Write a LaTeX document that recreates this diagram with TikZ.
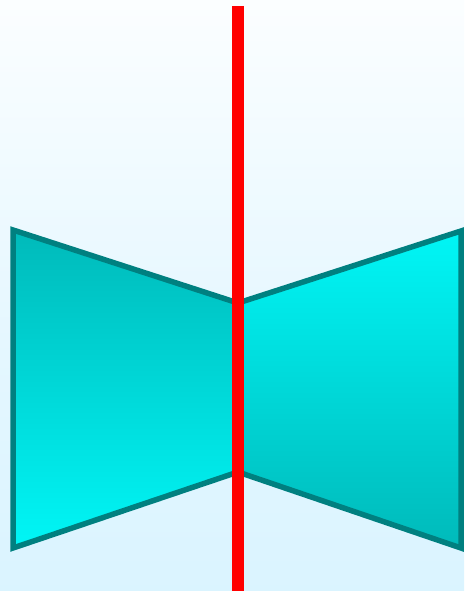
\documentclass[tikz,border=0pt]{standalone}
\usepackage{tikz}
\definecolor{bgtop}{RGB}{240,240,252}
\definecolor{bgbot}{RGB}{206,240,255}
\definecolor{cyandark}{RGB}{0,186,186}
\definecolor{cyanlight}{RGB}{0,246,246}
\definecolor{tealline}{RGB}{0,128,128}
\pgfdeclareverticalshading{backshade}{100bp}{
  color(0bp)=(bgbot); color(45bp)=(bgbot!55!white); color(80bp)=(white);
  color(92bp)=(bgtop!60!white); color(100bp)=(bgtop)}

\begin{document}
\begin{tikzpicture}[x=1pt, y=-1pt,
  wing/.style={draw=tealline, line width=5.5pt, line join=miter},
  axis/.style={draw=red, line width=12pt}]
  % canvas 464 x 591, origin top-left
  \useasboundingbox (0,0) rectangle (464,591);
  \shade[shading=backshade] (0,0) rectangle (464,591);

  % ============ WINGS ============
  % outer corners
  \coordinate (lt) at (13,230);
  \coordinate (lb) at (13,548);
  \coordinate (rt) at (461,231);
  \coordinate (rb) at (461,548);
  % waist on the axis
  \coordinate (mt) at (238,303);
  \coordinate (mb) at (238,472);

  \shade[top color=cyandark, bottom color=cyanlight] (lt) -- (mt) -- (mb) -- (lb) -- cycle;
  \shade[top color=cyanlight, bottom color=cyandark] (mt) -- (rt) -- (rb) -- (mb) -- cycle;
  \draw[wing] (lt) -- (mt) -- (mb) -- (lb) -- cycle;
  \draw[wing] (mt) -- (rt) -- (rb) -- (mb) -- cycle;

  % ============ AXIS ============
  \coordinate (atop) at (238,6);
  \coordinate (abot) at (238,591);
  \draw[axis] (atop) -- (abot);
\end{tikzpicture}
\end{document}
